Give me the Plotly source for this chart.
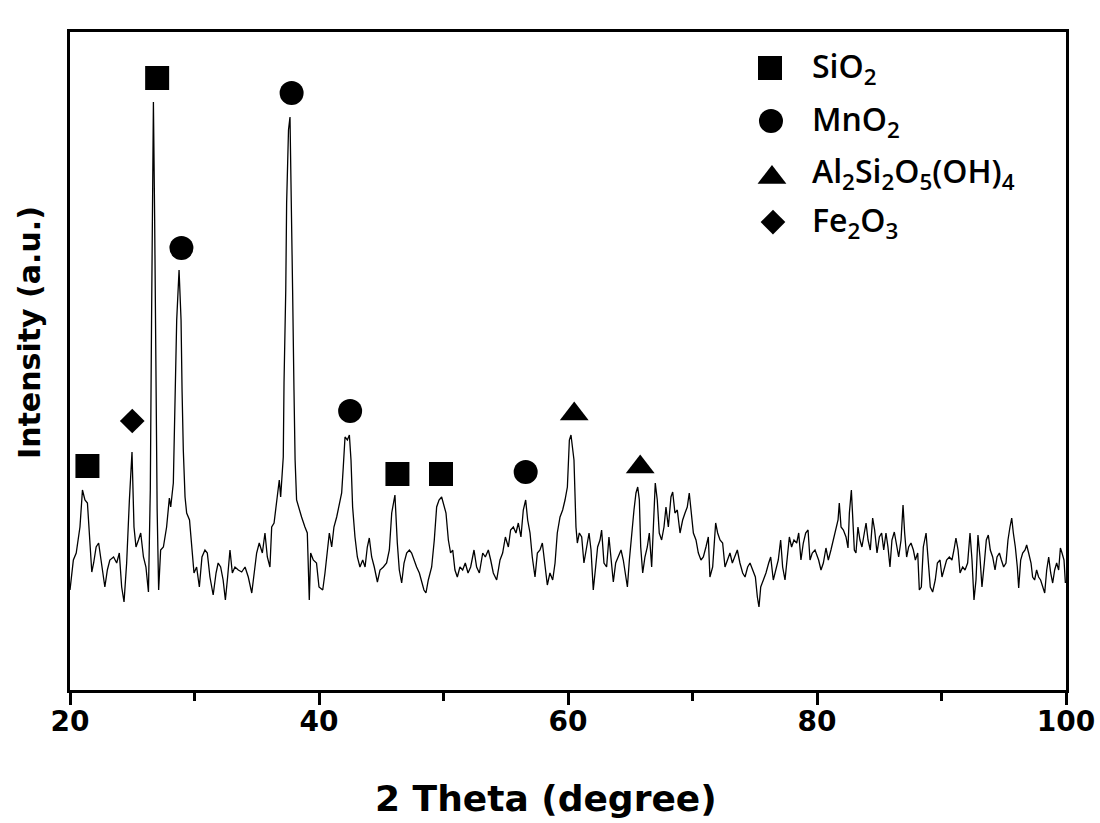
import plotly.graph_objects as go

# ---- XRD pattern (2θ in degrees, intensity in arbitrary units) ----
two_theta = [
    20.0, 20.27, 20.5, 20.8, 21.0, 21.2, 21.4, 21.6, 21.75, 21.9, 22.1, 22.3, 22.5, 22.8, 23.0, 23.2,
    23.5, 23.75, 23.96, 24.15, 24.34, 24.55, 24.77, 24.98, 25.14, 25.3, 25.5, 25.68, 25.9, 26.1, 26.3,
    26.45, 26.55, 26.65, 26.7, 26.8, 26.9, 27.0, 27.12, 27.28, 27.5, 27.76, 27.98, 28.09, 28.3, 28.43,
    28.57, 28.76, 28.84, 28.92, 29.0, 29.1, 29.24, 29.37, 29.6, 29.77, 29.96, 30.17, 30.39, 30.6, 30.84,
    31.03, 31.24, 31.5, 31.73, 31.9, 32.1, 32.3, 32.48, 32.66, 32.85, 33.04, 33.25, 33.52, 33.79, 34.06,
    34.32, 34.6, 34.78, 34.99, 35.2, 35.45, 35.66, 35.85, 36.06, 36.2, 36.39, 36.6, 36.81, 36.92, 37.13,
    37.19, 37.33, 37.4, 37.55, 37.67, 37.8, 37.88, 37.99, 38.08, 38.2, 38.42, 38.6, 38.87, 39.06, 39.22,
    39.33, 39.54, 39.8, 40.0,
    40.3, 40.48, 40.67, 40.83, 41.02, 41.2, 41.42, 41.63, 41.82, 41.95, 42.09, 42.28, 42.44, 42.57, 42.7,
    42.89, 43.08, 43.29, 43.51, 43.7, 43.88, 44.04, 44.23, 44.44, 44.69, 44.9, 45.17, 45.43, 45.65, 45.84,
    45.97, 46.1, 46.29, 46.45, 46.64, 46.83, 47.04, 47.26, 47.44, 47.63, 47.84, 48.06, 48.25, 48.43, 48.59,
    48.78, 49.05, 49.26, 49.45, 49.64, 49.85, 50.04, 50.2, 50.39, 50.57, 50.74, 50.92, 51.11, 51.32, 51.54,
    51.75, 51.97, 52.18, 52.45, 52.66, 52.88, 53.15, 53.36, 53.6, 53.79, 54.0, 54.27, 54.54, 54.75, 54.97,
    55.21, 55.39, 55.61, 55.82, 56.01, 56.22, 56.41, 56.6, 56.76, 56.95, 57.13, 57.35, 57.54, 57.75, 57.94,
    58.15, 58.34, 58.55, 58.77, 58.96, 59.14, 59.36, 59.57, 59.76, 59.95, 60.11,
    60.24, 60.48, 60.64, 60.75, 60.91, 61.1, 61.28, 61.5, 61.69, 61.85, 62.03, 62.22, 62.38, 62.57, 62.7,
    62.89, 63.1, 63.29, 63.43, 63.64, 63.83, 64.04, 64.26, 64.44, 64.6, 64.77, 64.93, 65.11, 65.3, 65.46,
    65.6, 65.73, 65.84, 66.0, 66.18, 66.37, 66.53, 66.72, 66.85, 67.01, 67.17, 67.33, 67.52, 67.71, 67.87,
    68.06, 68.27, 68.41, 68.59, 68.78, 69.0, 69.21, 69.4, 69.58, 69.74, 69.88, 70.07, 70.28, 70.47, 70.68,
    70.87, 71.08, 71.27, 71.4, 71.62, 71.86, 72.02, 72.21, 72.42, 72.61, 72.8, 73.01, 73.2, 73.41, 73.6,
    73.81, 74.03, 74.22, 74.43, 74.62, 74.83, 75.05, 75.21, 75.34, 75.48, 75.69, 75.9, 76.12, 76.28, 76.49,
    76.68, 76.89, 77.08, 77.24, 77.43, 77.62, 77.78, 77.96, 78.15, 78.37, 78.53, 78.71, 78.9, 79.09, 79.28,
    79.44, 79.62, 79.84,
    80.13, 80.32, 80.51, 80.72, 80.91, 81.12, 81.31, 81.53, 81.69, 81.79, 81.93, 82.12, 82.33, 82.49, 82.6,
    82.76, 82.87, 83.0, 83.13, 83.29, 83.45, 83.61, 83.8, 83.94, 84.1, 84.28, 84.47, 84.63, 84.82, 85.01,
    85.19, 85.36, 85.54, 85.7, 85.86, 86.02, 86.21, 86.4, 86.56, 86.75, 86.91, 87.04, 87.2, 87.36, 87.55,
    87.74, 87.9, 88.09, 88.22, 88.38, 88.54, 88.76, 88.94, 89.1, 89.29, 89.5, 89.67, 89.88, 90.04, 90.23,
    90.41, 90.63, 90.84, 91.0, 91.16, 91.33, 91.49, 91.7, 91.89, 92.1, 92.29, 92.45, 92.61, 92.77, 92.93,
    93.09, 93.25, 93.44, 93.6, 93.76, 93.92, 94.11, 94.3, 94.46, 94.65, 94.81, 94.99, 95.18, 95.34, 95.5,
    95.64, 95.77, 95.93, 96.09, 96.2, 96.36, 96.52, 96.71, 96.84, 97.0, 97.19, 97.32, 97.48, 97.64, 97.8,
    97.96, 98.13, 98.29, 98.45, 98.61, 98.77, 98.93, 99.09, 99.25, 99.41, 99.55, 99.68, 99.84, 99.95,
]
intensity = [
    100, 130, 137, 163, 200, 190, 187, 150, 118, 127, 143, 147, 127, 103, 120, 130,
    133, 127, 137, 103, 88, 127, 190, 238, 163, 143, 150, 157, 133, 123, 98,
    200, 370, 560, 588, 470, 300, 180, 100, 140, 143, 163, 192, 183, 207, 300,
    370, 420, 393, 370, 300, 240, 193, 177, 170, 143, 117, 123, 103, 133, 140,
    137, 113, 95, 117, 127, 123, 110, 90, 113, 140, 117, 123, 120, 118, 123,
    113, 97, 117, 137, 147, 137, 157, 133, 123, 163, 167, 190, 210, 193, 233,
    307, 400, 487, 560, 573, 487, 400, 300, 230, 190, 180, 173, 163, 157, 90,
    137, 130, 127, 103,
    100, 117, 137, 157, 143, 163, 173, 187, 197, 223, 253, 250, 255, 230, 183,
    153, 133, 123, 130, 123, 143, 152, 133, 123, 108, 120, 123, 127, 140, 177,
    187, 195, 147, 120, 107, 127, 137, 140, 137, 130, 123, 117, 107, 100, 97,
    110, 123, 150, 183, 190, 193, 183, 177, 150, 137, 140, 120, 113, 123, 120,
    127, 117, 123, 140, 123, 117, 137, 133, 140, 130, 117, 110, 130, 137, 153,
    143, 160, 163, 157, 167, 153, 180, 190, 170, 157, 133, 113, 137, 140, 147,
    123, 105, 117, 110, 127, 157, 173, 180, 190, 203, 250,
    255, 230, 163, 147, 157, 153, 127, 143, 157, 140, 100, 123, 143, 150, 160,
    127, 123, 153, 133, 108, 127, 133, 140, 130, 117, 103, 130, 157, 180, 197,
    203, 190, 143, 117, 133, 143, 157, 123, 163, 207, 190, 157, 150, 163, 183,
    163, 193, 198, 177, 180, 157, 170, 177, 183, 197, 180, 157, 150, 137, 130,
    133, 143, 153, 113, 123, 167, 157, 150, 147, 123, 130, 137, 127, 133, 140,
    127, 117, 113, 123, 127, 120, 113, 93, 83, 103, 110, 117, 127, 133, 110,
    120, 130, 150, 123, 110, 133, 153, 143, 150, 147, 157, 130, 147, 157, 160,
    130, 137, 140,
    130, 120, 127, 142, 130, 140, 150, 163, 170, 187, 163, 160, 153, 142, 177,
    200, 177, 140, 137, 163, 150, 143, 157, 167, 150, 140, 172, 160, 137, 153,
    157, 140, 157, 143, 123, 150, 158, 143, 133, 150, 185, 157, 133, 143, 147,
    140, 130, 137, 100, 103, 143, 157, 130, 103, 98, 110, 127, 130, 113, 123,
    130, 133, 130, 140, 152, 140, 117, 123, 120, 127, 157, 130, 90, 110, 155,
    133, 103, 127, 150, 155, 140, 133, 120, 133, 137, 130, 123, 127, 150, 163,
    172, 157, 143, 123, 102, 130, 137, 140, 145, 137, 127, 113, 110, 120, 113,
    110, 103, 97, 120, 133, 117, 107, 120, 127, 120, 142, 137, 130, 107,
]

# ---- phase identification markers ----
sio2_x = [21.4, 27.0, 46.3, 49.8]
sio2_y = [224, 612, 216, 216]
mno2_x = [28.95, 37.8, 42.5, 56.6]
mno2_y = [442, 597, 279, 218]
kaol_x = [60.5, 65.8]
kaol_y = [276, 223]
fe2o3_x = [25.0]
fe2o3_y = [269]

phase_names = ["SiO<sub>2</sub>", "MnO<sub>2</sub>",
               "Al<sub>2</sub>Si<sub>2</sub>O<sub>5</sub>(OH)<sub>4</sub>",
               "Fe<sub>2</sub>O<sub>3</sub>"]
phase_symbols = ["square", "circle", "triangle-up", "diamond"]
phase_sizes = [24, 24, 25, 19]

x_ticks = [20, 40, 60, 80, 100]

fig = go.Figure()
fig.add_trace(go.Scatter(x=two_theta, y=intensity, mode="lines",
                         line=dict(color="black", width=1.3), showlegend=False,
                         hoverinfo="skip"))

for xs, ys, sym, sz, nm in zip([sio2_x, mno2_x, kaol_x, fe2o3_x],
                               [sio2_y, mno2_y, kaol_y, fe2o3_y],
                               phase_symbols, phase_sizes, phase_names):
    fig.add_trace(go.Scatter(x=xs, y=ys, mode="markers", name=nm,
                             marker=dict(symbol=sym, size=sz, color="black"),
                             showlegend=False))

# ---- custom legend (overlay axes spanning the plot area, 0..1) ----
leg_x = [0.7028, 0.7038, 0.7048, 0.7058]
leg_y = [0.9453, 0.8647, 0.779, 0.7112]
for lx, ly, sym, sz in zip(leg_x, leg_y, phase_symbols, phase_sizes):
    fig.add_trace(go.Scatter(x=[lx], y=[ly], xaxis="x2", yaxis="y2", mode="markers",
                             marker=dict(symbol=sym, size=sz, color="black"),
                             showlegend=False, hoverinfo="skip"))

leg_text_y = [0.9453, 0.8647, 0.7857, 0.7112]
for ty, nm in zip(leg_text_y, phase_names):
    fig.add_annotation(x=0.743, y=ty, xref="paper", yref="paper", text=nm,
                       showarrow=False, xanchor="left", yanchor="middle",
                       font=dict(family="Open Sans", size=32, color="black", weight=600))

axis_font = dict(family="DejaVu Sans", size=28, color="black", weight="bold")

fig.update_layout(
    width=1100, height=823,
    margin=dict(l=70, r=34, t=32, b=133, autoexpand=False),
    paper_bgcolor="white", plot_bgcolor="white",
    showlegend=False,
    xaxis=dict(range=[20, 100], tickvals=x_ticks, ticks="outside", ticklen=12, tickwidth=3,
               tickcolor="black", showline=True, linewidth=3, linecolor="black", mirror=True,
               showgrid=False, zeroline=False, tickfont=axis_font, automargin=False,
               ticklabelstandoff=-8,
               minor=dict(dtick=10, ticks="outside", ticklen=8, tickwidth=3, tickcolor="black",
                          showgrid=False)),
    yaxis=dict(range=[0, 658], showticklabels=False, ticks="", showline=True, linewidth=3,
               linecolor="black", mirror=True, showgrid=False, zeroline=False, automargin=False),
    xaxis2=dict(range=[0, 1], overlaying="x", visible=False, automargin=False),
    yaxis2=dict(range=[0, 1], overlaying="y", visible=False, automargin=False),
)

fig.add_annotation(x=0.478, y=-0.1655, xref="paper", yref="paper", text="2 Theta (degree)",
                   showarrow=False, xanchor="center", yanchor="middle",
                   font=dict(family="DejaVu Sans", size=36, color="black", weight="bold"))
fig.add_annotation(x=-0.0412, y=0.544, xref="paper", yref="paper", text="Intensity (a.u.)",
                   showarrow=False, xanchor="center", yanchor="middle", textangle=-90,
                   font=dict(family="DejaVu Sans", size=30, color="black", weight="bold"))

fig.write_html("out.html")
